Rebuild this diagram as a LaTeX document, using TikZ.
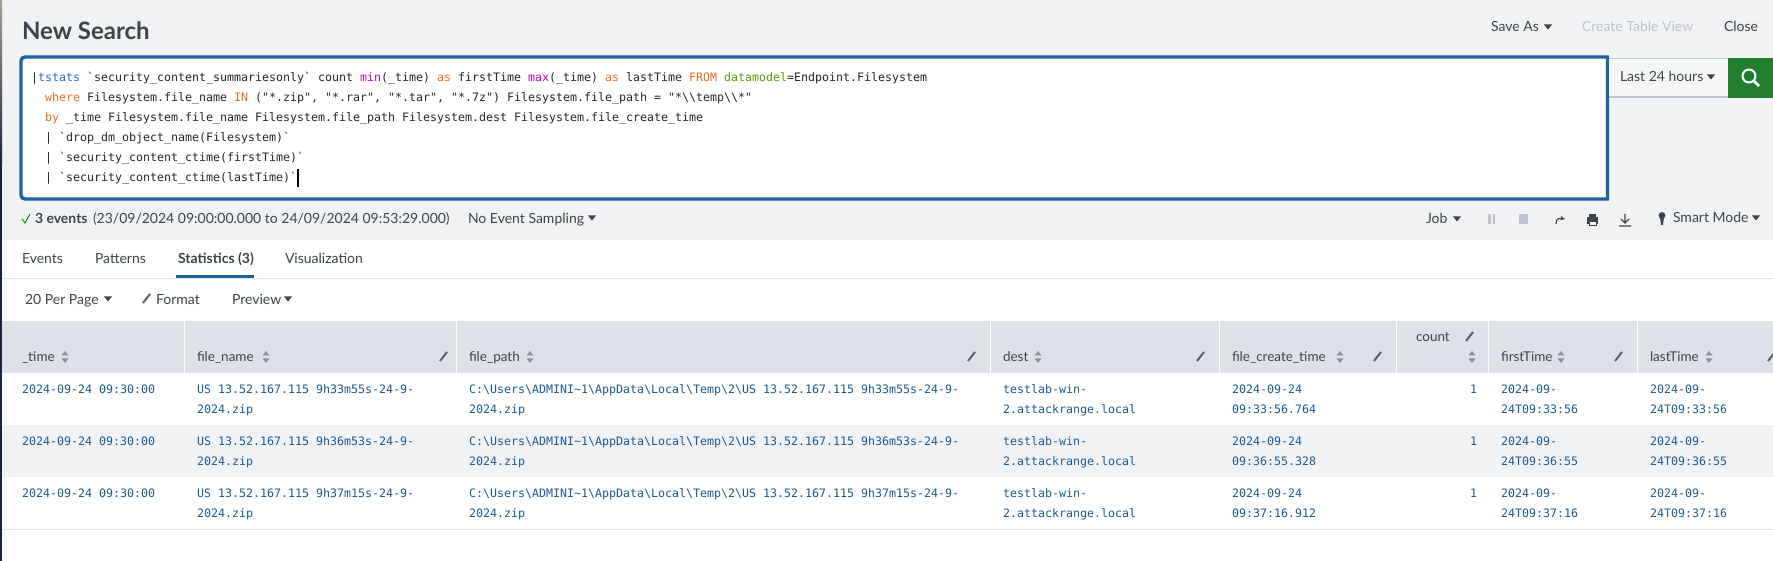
\documentclass[tikz,border=0pt]{standalone}
\usepackage{fontspec}
\setmainfont{Lato}
\newfontfamily\cm{DejaVu Sans Mono}
\definecolor{bandbg}{HTML}{F1F2F4}
\definecolor{hdbg}{HTML}{DDE1E8}
\definecolor{rowbg}{HTML}{F1F2F4}
\definecolor{rangebg}{HTML}{F5F6F8}
\definecolor{ink}{HTML}{3C444D}
\definecolor{lnk}{HTML}{1C5A8E}
\definecolor{boxb}{HTML}{1E62A0}
\definecolor{kwo}{HTML}{F26B21}
\definecolor{kwm}{HTML}{C800C8}
\definecolor{kwg}{HTML}{5A9E00}
\definecolor{kwb}{HTML}{2F5FE0}
\definecolor{gbtn}{HTML}{217E2E}
\definecolor{dim}{HTML}{BCC3CE}
\definecolor{sorti}{HTML}{8A919B}
\definecolor{stripa}{HTML}{A89F90}
\definecolor{stripb}{HTML}{16263F}
\newcommand{\bs}{\textbackslash{}}
\tikzset{x=1pt,y=-1pt,
 lab/.style={anchor=base west,inner sep=0pt,outer sep=0pt,text=ink,font=\fontsize{14}{16}\selectfont},
 hd/.style={lab,font=\fontsize{13.5}{16}\selectfont},
 code/.style={anchor=base west,inner sep=0pt,outer sep=0pt,text=black!85,font=\cm\fontsize{11.63}{14}\selectfont},
 cell/.style={code,text=lnk}
}
\newcommand{\caret}[3][ink]{\fill[#1] (#2-4,#3-2.5) -- (#2+4,#3-2.5) -- (#2,#3+2.5) -- cycle;}
\newcommand{\sorter}[2]{\fill[sorti] (#1-3.5,#2-1.5) -- (#1+3.5,#2-1.5) -- (#1,#2-6) -- cycle;
 \fill[sorti] (#1-3.5,#2+1.5) -- (#1+3.5,#2+1.5) -- (#1,#2+6) -- cycle;}
\newcommand{\pencil}[2]{\draw[line width=2pt,ink!85] (#1-3,#2+4) -- (#1+4,#2-5);}
\begin{document}
\begin{tikzpicture}
\useasboundingbox (0,0) rectangle (1773,561);
\fill[white] (0,0) rectangle (1773,561);
\fill[bandbg] (0,0) rectangle (1773,240);
% left strip
\fill[top color=stripa,bottom color=stripb] (0,0) rectangle (2,165);
\fill[stripb] (0,165) rectangle (2,561);
% title
\node[lab,font=\fontsize{24}{28}\selectfont\bfseries] (title) at (22,40) {New Search};
\node[lab] (saveas) at (1491,32) {Save As};
\caret{1548}{27}
\node[lab,text=dim] (ctv) at (1582,32) {Create Table View};
\node[lab] (close) at (1724,32) {Close};
% search box
\draw[boxb,line width=3.4pt,fill=white] (1607.5,57) [rounded corners=4pt] -- (21,57) -- (21,199) [sharp corners] -- (1607.5,199) -- cycle;
\node[code] (l1) at (31,81.5) {|\textcolor{kwb}{tstats} `security\_content\_summariesonly` count \textcolor{kwm}{min}(\_time) \textcolor{kwo}{as} firstTime \textcolor{kwm}{max}(\_time) \textcolor{kwo}{as} lastTime \textcolor{kwo}{FROM} \textcolor{kwg}{datamodel}=Endpoint.Filesystem};
\node[code] (l2) at (45,101.5) {\textcolor{kwo}{where} Filesystem.file\_name \textcolor{kwo}{IN} ("*.zip", "*.rar", "*.tar", "*.7z") Filesystem.file\_path = "*\bs\bs temp\bs\bs *"};
\node[code] (l3) at (45,121.5) {\textcolor{kwo}{by} \_time Filesystem.file\_name Filesystem.file\_path Filesystem.dest Filesystem.file\_create\_time};
\node[code] (l4) at (45,141.5) {| `drop\_dm\_object\_name(Filesystem)`};
\node[code] (l5) at (45,161.5) {| `security\_content\_ctime(firstTime)`};
\node[code] (l6) at (45,181.5) {| `security\_content\_ctime(lastTime)`};
\fill[black] (297,169) rectangle (298.5,187);
% time range
\fill[rangebg] (1609,58) rectangle (1728,98);
\fill[dim] (1609,58) rectangle (1728,59);
\fill[dim] (1609,96.5) rectangle (1728,98);
\node[lab] (range) at (1620,82) {Last 24 hours};
\caret{1711}{77}
\fill[gbtn] (1728,58) rectangle (1773,98);
\draw[white,line width=2pt] (1749,76) circle (6.5);
\draw[white,line width=2.6pt] (1754,81) -- (1759,86);
% status
\draw[green!50!black,line width=0.9pt] (22,219) -- (25,223) -- (30,214);
\node[lab,font=\fontsize{14}{16}\selectfont\bfseries] (ev) at (35,224) {3 events};
\node[lab] (span) at (93,224) {(23/09/2024 09:00:00.000 to 24/09/2024 09:53:29.000)};
\node[lab] (samp) at (468,224) {No Event Sampling};
\caret{592}{218}
\node[lab] (job) at (1426,224) {Job};
\caret{1457}{219}
\fill[dim] (1488,214) rectangle (1490.5,224);
\fill[dim] (1492.5,214) rectangle (1495,224);
\fill[dim] (1519,214) rectangle (1528,224);
\draw[ink,line width=1.1pt,-stealth] (1556,224) .. controls (1556,218) and (1560,218) .. (1565,219);
\fill[ink] (1587,217) rectangle (1598,224);
\fill[ink] (1589,214) rectangle (1596,217);
\fill[bandbg] (1589,222) rectangle (1596,226);
\draw[ink,line width=1pt] (1589,222) rectangle (1596,226);
\draw[ink,line width=1.1pt] (1625,214) -- (1625,223) (1621,219) -- (1625,223) -- (1629,219) (1619,226) -- (1631,226);
\fill[ink] (1662,215.5) circle (3.4);
\fill[ink] (1660,217) -- (1664,217) -- (1663,225) -- (1661,225) -- cycle;
\node[lab] (mode) at (1673,223) {Smart Mode};
\caret{1756}{218}
% tabs
\node[lab] (t1) at (22,264) {Events};
\node[lab] (t2) at (95,264) {Patterns};
\node[lab,font=\fontsize{14}{16}\selectfont\bfseries] (t3) at (178,264) {Statistics (3)};
\node[lab] (t4) at (285,264) {Visualization};
\fill[boxb] (176,275) rectangle (254,278);
\fill[hdbg!80] (2,278) rectangle (1773,279);
% toolbar
\node[lab] (pp) at (25,305) {20 Per Page};
\caret{108}{299}
\pencil{146}{299}
\node[lab] (fmt) at (156,305) {Format};
\node[lab] (pv) at (232,305) {Preview};
\caret{288}{299}
% table header
\fill[hdbg] (2,321) rectangle (1773,373);
\foreach \cx in {184,456,990,1219,1396,1488,1637} \fill[white] (\cx-.5,321) rectangle (\cx+.5,373);
\node[hd] (h1) at (22,362) {\_time};
\sorter{65}{357}
\node[hd] (h2) at (197,362) {file\_name};
\sorter{266}{357}
\pencil{443}{357}
\node[hd] (h3) at (469,362) {file\_path};
\sorter{530}{357}
\pencil{971}{357}
\node[hd] (h4) at (1003,362) {dest};
\sorter{1038}{357}
\pencil{1200}{357}
\node[hd] (h5) at (1232,362) {file\_create\_time};
\sorter{1340}{357}
\pencil{1377}{357}
\node[hd] (h6) at (1416,342) {count};
\pencil{1469}{337}
\sorter{1472}{357}
\node[hd] (h7) at (1501,362) {firstTime};
\sorter{1561}{357}
\pencil{1618}{357}
\node[hd] (h8) at (1650,362) {lastTime};
\sorter{1709}{357}
\pencil{1771}{357}
% rows
\fill[rowbg] (2,425) rectangle (1773,477);
\fill[hdbg!80] (2,529) rectangle (1773,530);
\foreach \yy/\mm/\cr/\lt in {393/9h33m55s/09:33:56.764/09:33:56, 445/9h36m53s/09:36:55.328/09:36:55, 497/9h37m15s/09:37:16.912/09:37:16}{
 \node[cell] at (22,\yy) {2024-09-24 09:30:00};
 \node[cell] at (197,\yy) {US 13.52.167.115 \mm-24-9-};
 \node[cell] at (197,\yy+20) {2024.zip};
 \node[cell] at (469,\yy) {C:\bs Users\bs ADMINI\textasciitilde 1\bs AppData\bs Local\bs Temp\bs 2\bs US 13.52.167.115 \mm-24-9-};
 \node[cell] at (469,\yy+20) {2024.zip};
 \node[cell] at (1003,\yy) {testlab-win-};
 \node[cell] at (1003,\yy+20) {2.attackrange.local};
 \node[cell] at (1232,\yy) {2024-09-24};
 \node[cell] at (1232,\yy+20) {\cr};
 \node[cell] at (1470,\yy) {1};
 \node[cell] at (1501,\yy) {2024-09-};
 \node[cell] at (1501,\yy+20) {24T\lt};
 \node[cell] at (1650,\yy) {2024-09-};
 \node[cell] at (1650,\yy+20) {24T\lt};
}
\end{tikzpicture}
\end{document}
